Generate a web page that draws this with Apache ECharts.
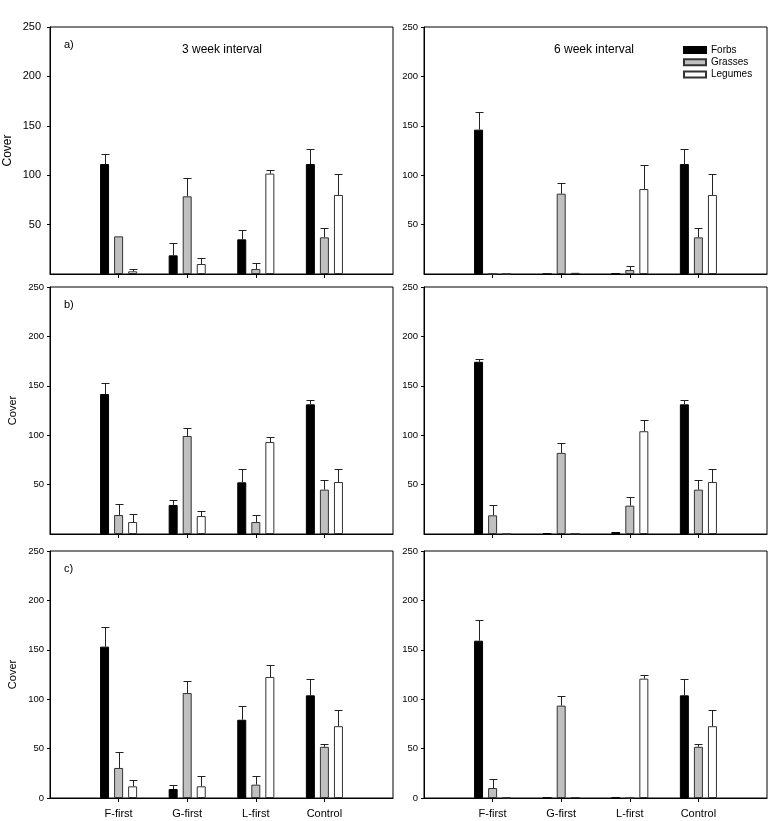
<!DOCTYPE html>
<html>
<head>
<meta charset="utf-8">
<script src="https://cdn.jsdelivr.net/npm/echarts@6/dist/echarts.min.js"></script>
<style>
html,body{margin:0;padding:0;background:#fff;}
#chart{width:768px;height:821px;}
</style>
</head>
<body>
<div id="chart"></div>
<script>
// ---------- DATA ----------
const categories = ['F-first', 'G-first', 'L-first', 'Control'];
const groups = ['Forbs', 'Grasses', 'Legumes'];
const intervalTitles = ['3 week interval', '6 week interval'];
const panelLetters = ['a)', 'b)', 'c)'];

// Row a, 3 week interval
const forbsA3 = [111.3, 18.9, 35.1, 111.3];
const forbsA3Top = [121.5, 31.4, 44.5, 126.2];
const grassA3 = [38.1, 78.6, 5.1, 37.1];
const grassA3Top = [null, 97.5, 10.8, 46.2];
const legA3 = [2.7, 10.1, 101.6, 80];
const legA3Top = [5.1, 16.2, 105.3, 100.9];

// Row a, 6 week interval
const forbsA6 = [146.1, 0, 0.3, 111.3];
const forbsA6Top = [164, null, null, 126.2];
const grassA6 = [0, 81.3, 4, 37.1];
const grassA6Top = [null, 91.8, 7.8, 46.2];
const legA6 = [0, 1.2, 86, 80];
const legA6Top = [null, null, 110.3, 100.9];

// Row b, 3 week interval
const forbsB3 = [141.7, 29.4, 52.3, 131.2];
const forbsB3Top = [152.5, 34.8, 65.8, 135.3];
const grassB3 = [19.2, 99.2, 12.1, 44.9];
const grassB3Top = [30, 107, 18.9, 55];
const legB3 = [12.1, 18.2, 93.1, 52.6];
const legB3Top = [19.9, 22.9, 98.2, 65.8];

// Row b, 6 week interval
const forbsB6 = [174.3, 0.7, 2, 131.2];
const forbsB6Top = [177, null, null, 135.3];
const grassB6 = [18.9, 82.1, 28.7, 44.9];
const grassB6Top = [29.7, 91.9, 37.8, 55];
const legB6 = [0, 0.3, 104, 52.6];
const legB6Top = [null, null, 114.9, 65.8];

// Row c, 3 week interval
const forbsC3 = [153.2, 9.1, 79.2, 103.9];
const forbsC3Top = [172.9, 12.9, 93, 120.1];
const grassC3 = [30.4, 106.2, 13.5, 51.8];
const grassC3Top = [46.3, 118.4, 22, 54.5];
const legC3 = [11.8, 11.8, 122.5, 72.7];
const legC3Top = [17.9, 22, 134.6, 89.3];

// Row c, 6 week interval
const forbsC6 = [159.2, 0.3, 0.3, 103.9];
const forbsC6Top = [180.5, null, null, 120.1];
const grassC6 = [10.1, 93.5, 0, 51.8];
const grassC6Top = [18.9, 103.6, null, 54.5];
const legC6 = [0.3, 0.7, 120.8, 72.7];
const legC6Top = [null, null, 124.8, 89.3];

// ---------- LAYOUT / STYLE ----------
const panels = [
  {row: 0, col: 0, vals: [forbsA3, grassA3, legA3], tops: [forbsA3Top, grassA3Top, legA3Top]},
  {row: 0, col: 1, vals: [forbsA6, grassA6, legA6], tops: [forbsA6Top, grassA6Top, legA6Top]},
  {row: 1, col: 0, vals: [forbsB3, grassB3, legB3], tops: [forbsB3Top, grassB3Top, legB3Top]},
  {row: 1, col: 1, vals: [forbsB6, grassB6, legB6], tops: [forbsB6Top, grassB6Top, legB6Top]},
  {row: 2, col: 0, vals: [forbsC3, grassC3, legC3], tops: [forbsC3Top, grassC3Top, legC3Top]},
  {row: 2, col: 1, vals: [forbsC6, grassC6, legC6], tops: [forbsC6Top, grassC6Top, legC6Top]}
];
const colLeft = [50, 424];
const rowTop = [27, 287, 551];
const gridW = 343, gridH = 247;
const fills = ['#000000', '#c0c0c0', '#ffffff'];
const borders = ['#000000', '#333333', '#333333'];
const BAR_W = 9, BAR_GAP = 0.56;
const FONT = 'Liberation Sans, Arial, sans-serif';

// axis categories padded with empty slots at each end
const axisCats = [''].concat(categories, ['']);

const grid = [], xAxis = [], yAxis = [], series = [];
panels.forEach((p, i) => {
  grid.push({
    left: colLeft[p.col], top: rowTop[p.row], width: gridW, height: gridH,
    outerBoundsMode: 'none', containLabel: false,
    show: true, borderColor: '#000', borderWidth: 1, backgroundColor: 'transparent'
  });
  const bottom = p.row === 2;
  xAxis.push({
    type: 'category', gridIndex: i, data: axisCats, boundaryGap: false,
    axisLine: {lineStyle: {color: '#000', width: 1}},
    axisTick: {show: true, length: 4, inside: false, lineStyle: {color: '#000'},
      interval: (idx) => idx >= 1 && idx <= categories.length},
    axisLabel: {show: bottom, interval: 0, color: '#000', fontSize: 11, fontFamily: FONT, margin: 10},
    splitLine: {show: false}
  });
  const leftBig = p.row === 0 && p.col === 0;
  yAxis.push({
    type: 'value', gridIndex: i, min: 0, max: 250, interval: 50,
    name: p.col === 0 ? 'Cover' : '',
    nameLocation: 'middle',
    nameGap: leftBig ? 36 : 32,
    nameRotate: 90,
    nameTextStyle: {color: '#000', fontSize: leftBig ? 12 : 11, fontFamily: FONT},
    axisLine: {show: true, lineStyle: {color: '#000', width: 1}},
    axisTick: {show: true, length: 3, inside: false, lineStyle: {color: '#000'}},
    axisLabel: {color: '#000', fontSize: leftBig ? 11 : 9.5, fontFamily: FONT,
      margin: leftBig ? 9 : 6, showMinLabel: bottom},
    splitLine: {show: false}
  });
  groups.forEach((g, k) => {
    series.push({
      type: 'bar', name: g, xAxisIndex: i, yAxisIndex: i,
      barWidth: BAR_W, barGap: (BAR_GAP * 100) + '%',
      data: [null].concat(p.vals[k], [null]),
      itemStyle: {color: fills[k], borderColor: borders[k], borderWidth: 1},
      emphasis: {disabled: true},
      silent: true
    });
  });
  groups.forEach((g, k) => {
    const offset = (k - 1) * BAR_W * (1 + BAR_GAP);
    const errData = [];
    p.vals[k].forEach((v, j) => {
      if (p.tops[k][j] !== null) errData.push([j + 1, v, p.tops[k][j]]);
    });
    series.push({
      type: 'custom', name: g + ' error', xAxisIndex: i, yAxisIndex: i,
      data: errData, silent: true, z: 5,
      encode: {x: 0, y: [1, 2]},
      renderItem: function (params, api) {
        const pv = api.coord([api.value(0), api.value(1)]);
        const pt = api.coord([api.value(0), api.value(2)]);
        const cx = Math.round(pv[0] + offset) + 0.5;
        const ty = Math.round(pt[1]) + 0.5;
        const st = {stroke: '#222', lineWidth: 1};
        return {
          type: 'group',
          children: [
            {type: 'line', shape: {x1: cx, y1: pv[1], x2: cx, y2: ty}, style: st},
            {type: 'line', shape: {x1: cx - 4, y1: ty, x2: cx + 4, y2: ty}, style: st}
          ]
        };
      }
    });
  });
});

const graphic = [];
panelLetters.forEach((t, r) => {
  graphic.push({type: 'text', left: 64, top: rowTop[r] + 12,
    style: {text: t, fill: '#000', font: '11px ' + FONT}});
});
intervalTitles.forEach((t, c) => {
  graphic.push({type: 'text', x: colLeft[c] + 171 - 40 + (c === 0 ? 1 : -1), y: 44,
    style: {text: t, fill: '#000', font: '12px ' + FONT}});
});

const chart = echarts.init(document.getElementById('chart'), null, {renderer: 'canvas'});
chart.setOption({
  animation: false,
  backgroundColor: '#fff',
  textStyle: {fontFamily: FONT},
  legend: {
    data: groups, orient: 'vertical', left: 683, top: 44, padding: 0,
    itemWidth: 22, itemHeight: 6, itemGap: 0.3,
    textStyle: {color: '#000', fontSize: 10, fontFamily: FONT, lineHeight: 12},
    selectedMode: false, icon: 'rect'
  },
  grid: grid, xAxis: xAxis, yAxis: yAxis, series: series, graphic: graphic
});
</script>
</body>
</html>
